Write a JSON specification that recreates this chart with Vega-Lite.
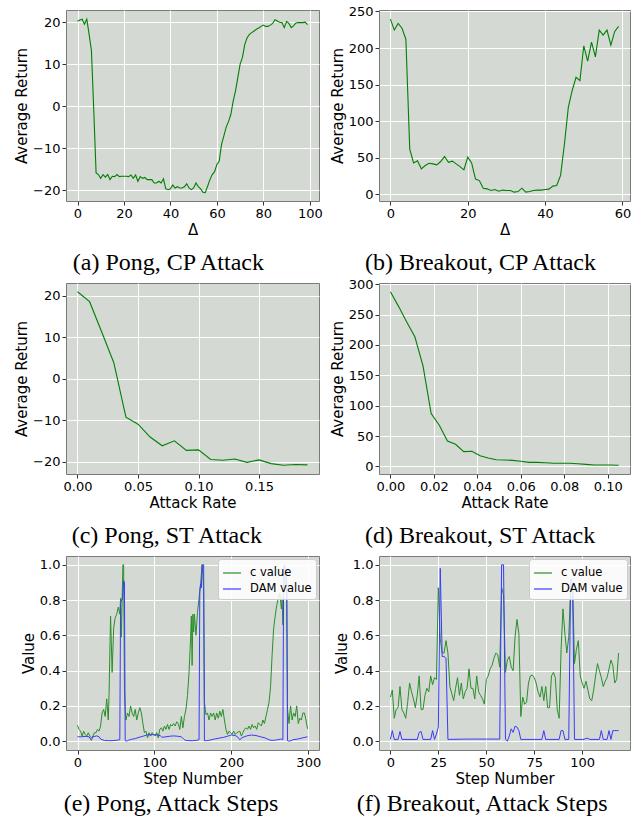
{
"$schema": "https://vega.github.io/schema/vega-lite/v6.json",
"padding": {"left": 14, "top": 4, "right": 5, "bottom": 5},
"datasets": {
"pongCP": [{"d":0,"r":20.2},{"d":1,"r":20.5},{"d":2,"r":20.7},{"d":3,"r":19.5},{"d":4,"r":20.7},{"d":5,"r":17.1},{"d":6,"r":13.2},{"d":7,"r":-1},{"d":8,"r":-15.9},{"d":9,"r":-16.3},{"d":10,"r":-17.2},{"d":11,"r":-16.3},{"d":12,"r":-16.9},{"d":13,"r":-16.3},{"d":14,"r":-17.5},{"d":15,"r":-16.7},{"d":16,"r":-16.8},{"d":17,"r":-16.3},{"d":18,"r":-16.8},{"d":19,"r":-16.7},{"d":20,"r":-16.7},{"d":21,"r":-16.7},{"d":22,"r":-16.8},{"d":23,"r":-16.4},{"d":24,"r":-17.2},{"d":25,"r":-16.4},{"d":26,"r":-17.9},{"d":27,"r":-16.8},{"d":28,"r":-17.2},{"d":29,"r":-17.0},{"d":30,"r":-17.5},{"d":31,"r":-17.5},{"d":32,"r":-17.5},{"d":33,"r":-18.3},{"d":34,"r":-18.3},{"d":35,"r":-17.9},{"d":36,"r":-18.3},{"d":37,"r":-17.3},{"d":38,"r":-19.7},{"d":39,"r":-19.9},{"d":40,"r":-19.7},{"d":41,"r":-18.8},{"d":42,"r":-19.5},{"d":43,"r":-19.2},{"d":44,"r":-19.5},{"d":45,"r":-19.5},{"d":46,"r":-19.2},{"d":47,"r":-18.5},{"d":48,"r":-19.5},{"d":49,"r":-19.9},{"d":50,"r":-19.5},{"d":51,"r":-18.3},{"d":52,"r":-19.2},{"d":53,"r":-19.7},{"d":54,"r":-20.5},{"d":55,"r":-20.6},{"d":56,"r":-19.1},{"d":57,"r":-17.5},{"d":58,"r":-16.3},{"d":59,"r":-15.6},{"d":60,"r":-13.9},{"d":61,"r":-13.1},{"d":62,"r":-9.1},{"d":63,"r":-7.1},{"d":64,"r":-5.0},{"d":65,"r":-3.7},{"d":66,"r":-2.0},{"d":67,"r":1.2},{"d":68,"r":3.6},{"d":69,"r":6.8},{"d":70,"r":10.0},{"d":71,"r":11.6},{"d":72,"r":14.7},{"d":73,"r":16.3},{"d":74,"r":17.1},{"d":75,"r":17.5},{"d":76,"r":17.9},{"d":77,"r":18.3},{"d":78,"r":18.6},{"d":79,"r":19.0},{"d":80,"r":19.3},{"d":81,"r":19.0},{"d":82,"r":19.0},{"d":83,"r":19.3},{"d":84,"r":19.7},{"d":85,"r":20.6},{"d":86,"r":20.3},{"d":87,"r":20.0},{"d":88,"r":19.9},{"d":89,"r":18.7},{"d":90,"r":20.2},{"d":91,"r":19.7},{"d":92,"r":18.7},{"d":93,"r":19.1},{"d":94,"r":19.8},{"d":95,"r":19.9},{"d":96,"r":19.9},{"d":97,"r":19.9},{"d":98,"r":20.0},{"d":99,"r":19.4}],
"breakCP": [{"d":0,"r":239.5},{"d":1,"r":224.5},{"d":2,"r":233.6},{"d":3,"r":227},{"d":4,"r":212},{"d":5,"r":62},{"d":6,"r":43},{"d":7,"r":46},{"d":8,"r":35},{"d":9,"r":39.5},{"d":10,"r":42.7},{"d":11,"r":41.8},{"d":12,"r":40.5},{"d":13,"r":45},{"d":14,"r":51.8},{"d":15,"r":44},{"d":16,"r":45.5},{"d":17,"r":41.8},{"d":18,"r":38},{"d":19,"r":33.6},{"d":20,"r":51},{"d":21,"r":43},{"d":22,"r":21},{"d":23,"r":19},{"d":24,"r":8.6},{"d":25,"r":7.7},{"d":26,"r":5.5},{"d":27,"r":6.8},{"d":28,"r":4.5},{"d":29,"r":6},{"d":30,"r":5.5},{"d":31,"r":5.5},{"d":32,"r":3.2},{"d":33,"r":4},{"d":34,"r":8.6},{"d":35,"r":3.2},{"d":36,"r":4},{"d":37,"r":5.5},{"d":38,"r":6},{"d":39,"r":6},{"d":40,"r":6.8},{"d":41,"r":7.3},{"d":42,"r":11.4},{"d":43,"r":12.3},{"d":44,"r":26},{"d":45,"r":69},{"d":46,"r":119},{"d":47,"r":142},{"d":48,"r":160},{"d":49,"r":155.5},{"d":50,"r":203},{"d":51,"r":182},{"d":52,"r":208},{"d":53,"r":188},{"d":54,"r":224.5},{"d":55,"r":217.7},{"d":56,"r":224.5},{"d":57,"r":204},{"d":58,"r":222.7},{"d":59,"r":229.5}],
"pongST": [{"a":0.00,"r":21},{"a":0.01,"r":18.6},{"a":0.02,"r":11.3},{"a":0.03,"r":3.9},{"a":0.04,"r":-9.2},{"a":0.05,"r":-10.9},{"a":0.06,"r":-14},{"a":0.07,"r":-16.1},{"a":0.08,"r":-14.9},{"a":0.09,"r":-17.2},{"a":0.10,"r":-17.1},{"a":0.11,"r":-19.4},{"a":0.12,"r":-19.6},{"a":0.13,"r":-19.3},{"a":0.14,"r":-20.1},{"a":0.15,"r":-19.5},{"a":0.16,"r":-20.4},{"a":0.17,"r":-20.8},{"a":0.18,"r":-20.6},{"a":0.19,"r":-20.7}],
"breakST": [{"a":0,"r":287.8},{"a":0.00375,"r":263.6},{"a":0.0075,"r":238},{"a":0.01125,"r":213.5},{"a":0.015,"r":165.7},{"a":0.01875,"r":87},{"a":0.0225,"r":67.7},{"a":0.02625,"r":41.8},{"a":0.03,"r":36.3},{"a":0.03375,"r":24.2},{"a":0.0375,"r":24.8},{"a":0.04125,"r":17.6},{"a":0.045,"r":13.8},{"a":0.04875,"r":11},{"a":0.0525,"r":10.5},{"a":0.05625,"r":9.9},{"a":0.06,"r":8.3},{"a":0.06375,"r":6.6},{"a":0.0675,"r":6.6},{"a":0.07125,"r":6},{"a":0.075,"r":5},{"a":0.07875,"r":5},{"a":0.0825,"r":5},{"a":0.08625,"r":4.4},{"a":0.09,"r":3.3},{"a":0.09375,"r":2.2},{"a":0.0975,"r":2.2},{"a":0.10125,"r":2.2},{"a":0.105,"r":1.7}],
"pongSteps": [
{"s":0,"v":0.09,"k":"c value"},{"s":2,"v":0.067,"k":"c value"},{"s":4,"v":0.057,"k":"c value"},{"s":6,"v":0.029,"k":"c value"},{"s":8,"v":0.057,"k":"c value"},{"s":10,"v":0.038,"k":"c value"},{"s":12,"v":0.029,"k":"c value"},{"s":14,"v":0.048,"k":"c value"},{"s":16,"v":0.029,"k":"c value"},{"s":18,"v":0.019,"k":"c value"},{"s":20,"v":0.029,"k":"c value"},{"s":22,"v":0.048,"k":"c value"},{"s":24,"v":0.048,"k":"c value"},{"s":26,"v":0.067,"k":"c value"},{"s":28,"v":0.057,"k":"c value"},{"s":30,"v":0.086,"k":"c value"},{"s":32,"v":0.16,"k":"c value"},{"s":34,"v":0.18,"k":"c value"},{"s":36,"v":0.14,"k":"c value"},{"s":38,"v":0.24,"k":"c value"},{"s":40,"v":0.12,"k":"c value"},{"s":41,"v":0.26,"k":"c value"},{"s":43,"v":0.71,"k":"c value"},{"s":45,"v":0.39,"k":"c value"},{"s":47,"v":0.64,"k":"c value"},{"s":49,"v":0.70,"k":"c value"},{"s":51,"v":0.72,"k":"c value"},{"s":53,"v":0.76,"k":"c value"},{"s":55,"v":0.72,"k":"c value"},{"s":56,"v":0.81,"k":"c value"},{"s":57,"v":0.59,"k":"c value"},{"s":58,"v":0.79,"k":"c value"},{"s":59,"v":1.0,"k":"c value"},{"s":60,"v":1.0,"k":"c value"},{"s":61,"v":0.3,"k":"c value"},{"s":62,"v":0.18,"k":"c value"},{"s":63,"v":0.12,"k":"c value"},{"s":65,"v":0.16,"k":"c value"},{"s":67,"v":0.14,"k":"c value"},{"s":69,"v":0.20,"k":"c value"},{"s":71,"v":0.16,"k":"c value"},{"s":73,"v":0.14,"k":"c value"},{"s":75,"v":0.18,"k":"c value"},{"s":77,"v":0.12,"k":"c value"},{"s":79,"v":0.16,"k":"c value"},{"s":81,"v":0.19,"k":"c value"},{"s":83,"v":0.16,"k":"c value"},{"s":85,"v":0.10,"k":"c value"},{"s":87,"v":0.048,"k":"c value"},{"s":89,"v":0.057,"k":"c value"},{"s":91,"v":0.019,"k":"c value"},{"s":93,"v":0.048,"k":"c value"},{"s":95,"v":0.029,"k":"c value"},{"s":97,"v":0.048,"k":"c value"},{"s":99,"v":0.038,"k":"c value"},{"s":101,"v":0.029,"k":"c value"},{"s":103,"v":0.048,"k":"c value"},{"s":105,"v":0.019,"k":"c value"},{"s":107,"v":0.067,"k":"c value"},{"s":109,"v":0.076,"k":"c value"},{"s":111,"v":0.057,"k":"c value"},{"s":113,"v":0.086,"k":"c value"},{"s":115,"v":0.067,"k":"c value"},{"s":117,"v":0.095,"k":"c value"},{"s":119,"v":0.067,"k":"c value"},{"s":121,"v":0.095,"k":"c value"},{"s":123,"v":0.086,"k":"c value"},{"s":125,"v":0.10,"k":"c value"},{"s":127,"v":0.086,"k":"c value"},{"s":129,"v":0.11,"k":"c value"},{"s":131,"v":0.10,"k":"c value"},{"s":133,"v":0.067,"k":"c value"},{"s":135,"v":0.14,"k":"c value"},{"s":137,"v":0.076,"k":"c value"},{"s":139,"v":0.14,"k":"c value"},{"s":141,"v":0.18,"k":"c value"},{"s":143,"v":0.26,"k":"c value"},{"s":145,"v":0.39,"k":"c value"},{"s":147,"v":0.58,"k":"c value"},{"s":148,"v":0.71,"k":"c value"},{"s":149,"v":0.43,"k":"c value"},{"s":150,"v":0.72,"k":"c value"},{"s":151,"v":0.62,"k":"c value"},{"s":152,"v":0.72,"k":"c value"},{"s":154,"v":0.60,"k":"c value"},{"s":156,"v":0.73,"k":"c value"},{"s":158,"v":0.81,"k":"c value"},{"s":160,"v":0.89,"k":"c value"},{"s":162,"v":1.0,"k":"c value"},{"s":163,"v":0.94,"k":"c value"},{"s":164,"v":0.85,"k":"c value"},{"s":165,"v":0.22,"k":"c value"},{"s":167,"v":0.15,"k":"c value"},{"s":169,"v":0.16,"k":"c value"},{"s":171,"v":0.12,"k":"c value"},{"s":173,"v":0.16,"k":"c value"},{"s":175,"v":0.14,"k":"c value"},{"s":177,"v":0.16,"k":"c value"},{"s":179,"v":0.12,"k":"c value"},{"s":181,"v":0.16,"k":"c value"},{"s":183,"v":0.13,"k":"c value"},{"s":185,"v":0.17,"k":"c value"},{"s":187,"v":0.14,"k":"c value"},{"s":189,"v":0.18,"k":"c value"},{"s":191,"v":0.12,"k":"c value"},{"s":193,"v":0.067,"k":"c value"},{"s":195,"v":0.038,"k":"c value"},{"s":197,"v":0.057,"k":"c value"},{"s":199,"v":0.048,"k":"c value"},{"s":201,"v":0.038,"k":"c value"},{"s":203,"v":0.057,"k":"c value"},{"s":205,"v":0.038,"k":"c value"},{"s":207,"v":0.048,"k":"c value"},{"s":209,"v":0.052,"k":"c value"},{"s":211,"v":0.057,"k":"c value"},{"s":213,"v":0.029,"k":"c value"},{"s":215,"v":0.048,"k":"c value"},{"s":217,"v":0.067,"k":"c value"},{"s":219,"v":0.076,"k":"c value"},{"s":221,"v":0.067,"k":"c value"},{"s":223,"v":0.086,"k":"c value"},{"s":225,"v":0.067,"k":"c value"},{"s":227,"v":0.095,"k":"c value"},{"s":229,"v":0.076,"k":"c value"},{"s":231,"v":0.086,"k":"c value"},{"s":233,"v":0.067,"k":"c value"},{"s":235,"v":0.105,"k":"c value"},{"s":237,"v":0.095,"k":"c value"},{"s":239,"v":0.086,"k":"c value"},{"s":241,"v":0.12,"k":"c value"},{"s":243,"v":0.10,"k":"c value"},{"s":245,"v":0.14,"k":"c value"},{"s":247,"v":0.18,"k":"c value"},{"s":249,"v":0.22,"k":"c value"},{"s":251,"v":0.31,"k":"c value"},{"s":253,"v":0.49,"k":"c value"},{"s":255,"v":0.64,"k":"c value"},{"s":257,"v":0.71,"k":"c value"},{"s":259,"v":0.77,"k":"c value"},{"s":261,"v":0.81,"k":"c value"},{"s":263,"v":0.84,"k":"c value"},{"s":265,"v":0.75,"k":"c value"},{"s":266,"v":0.81,"k":"c value"},{"s":267,"v":0.66,"k":"c value"},{"s":268,"v":0.88,"k":"c value"},{"s":269,"v":1.0,"k":"c value"},{"s":270,"v":0.90,"k":"c value"},{"s":272,"v":0.86,"k":"c value"},{"s":273,"v":0.18,"k":"c value"},{"s":275,"v":0.10,"k":"c value"},{"s":277,"v":0.20,"k":"c value"},{"s":279,"v":0.12,"k":"c value"},{"s":281,"v":0.16,"k":"c value"},{"s":283,"v":0.14,"k":"c value"},{"s":285,"v":0.20,"k":"c value"},{"s":287,"v":0.10,"k":"c value"},{"s":289,"v":0.13,"k":"c value"},{"s":291,"v":0.12,"k":"c value"},{"s":293,"v":0.16,"k":"c value"},{"s":295,"v":0.16,"k":"c value"},{"s":297,"v":0.12,"k":"c value"},{"s":299,"v":0.07,"k":"c value"},
{"s":0,"v":0.025,"k":"DAM value"},{"s":5,"v":0.025,"k":"DAM value"},{"s":10,"v":0.027,"k":"DAM value"},{"s":15,"v":0.025,"k":"DAM value"},{"s":18,"v":0.005,"k":"DAM value"},{"s":20,"v":0.025,"k":"DAM value"},{"s":25,"v":0.03,"k":"DAM value"},{"s":28,"v":0.025,"k":"DAM value"},{"s":30,"v":0.012,"k":"DAM value"},{"s":35,"v":0.004,"k":"DAM value"},{"s":40,"v":0.003,"k":"DAM value"},{"s":45,"v":0.003,"k":"DAM value"},{"s":50,"v":0.005,"k":"DAM value"},{"s":55,"v":0.008,"k":"DAM value"},{"s":56,"v":0.78,"k":"DAM value"},{"s":57,"v":0.80,"k":"DAM value"},{"s":58,"v":0.80,"k":"DAM value"},{"s":59,"v":0.84,"k":"DAM value"},{"s":60,"v":0.91,"k":"DAM value"},{"s":61,"v":0.90,"k":"DAM value"},{"s":62,"v":0.003,"k":"DAM value"},{"s":64,"v":0.0,"k":"DAM value"},{"s":66,"v":0.005,"k":"DAM value"},{"s":70,"v":0.01,"k":"DAM value"},{"s":75,"v":0.015,"k":"DAM value"},{"s":80,"v":0.022,"k":"DAM value"},{"s":85,"v":0.028,"k":"DAM value"},{"s":90,"v":0.035,"k":"DAM value"},{"s":95,"v":0.037,"k":"DAM value"},{"s":100,"v":0.037,"k":"DAM value"},{"s":105,"v":0.035,"k":"DAM value"},{"s":108,"v":0.03,"k":"DAM value"},{"s":110,"v":0.022,"k":"DAM value"},{"s":115,"v":0.025,"k":"DAM value"},{"s":120,"v":0.028,"k":"DAM value"},{"s":125,"v":0.03,"k":"DAM value"},{"s":130,"v":0.028,"k":"DAM value"},{"s":135,"v":0.025,"k":"DAM value"},{"s":138,"v":0.012,"k":"DAM value"},{"s":140,"v":0.005,"k":"DAM value"},{"s":145,"v":0.003,"k":"DAM value"},{"s":150,"v":0.003,"k":"DAM value"},{"s":155,"v":0.005,"k":"DAM value"},{"s":158,"v":0.008,"k":"DAM value"},{"s":159,"v":0.85,"k":"DAM value"},{"s":160,"v":0.89,"k":"DAM value"},{"s":161,"v":0.87,"k":"DAM value"},{"s":162,"v":1.0,"k":"DAM value"},{"s":163,"v":1.0,"k":"DAM value"},{"s":164,"v":1.0,"k":"DAM value"},{"s":165,"v":0.003,"k":"DAM value"},{"s":168,"v":0.003,"k":"DAM value"},{"s":172,"v":0.006,"k":"DAM value"},{"s":178,"v":0.012,"k":"DAM value"},{"s":185,"v":0.018,"k":"DAM value"},{"s":190,"v":0.022,"k":"DAM value"},{"s":195,"v":0.028,"k":"DAM value"},{"s":200,"v":0.035,"k":"DAM value"},{"s":205,"v":0.032,"k":"DAM value"},{"s":208,"v":0.025,"k":"DAM value"},{"s":211,"v":0.008,"k":"DAM value"},{"s":214,"v":0.02,"k":"DAM value"},{"s":220,"v":0.03,"k":"DAM value"},{"s":226,"v":0.035,"k":"DAM value"},{"s":232,"v":0.032,"k":"DAM value"},{"s":238,"v":0.025,"k":"DAM value"},{"s":244,"v":0.018,"k":"DAM value"},{"s":250,"v":0.006,"k":"DAM value"},{"s":255,"v":0.005,"k":"DAM value"},{"s":260,"v":0.008,"k":"DAM value"},{"s":264,"v":0.012,"k":"DAM value"},{"s":267,"v":0.01,"k":"DAM value"},{"s":268,"v":0.96,"k":"DAM value"},{"s":269,"v":1.0,"k":"DAM value"},{"s":270,"v":0.98,"k":"DAM value"},{"s":271,"v":0.96,"k":"DAM value"},{"s":272,"v":0.90,"k":"DAM value"},{"s":273,"v":0.003,"k":"DAM value"},{"s":276,"v":0.0,"k":"DAM value"},{"s":280,"v":0.008,"k":"DAM value"},{"s":286,"v":0.012,"k":"DAM value"},{"s":292,"v":0.018,"k":"DAM value"},{"s":299,"v":0.025,"k":"DAM value"}],
"breakSteps": [
{"s":0,"v":0.25,"k":"c value"},{"s":1,"v":0.29,"k":"c value"},{"s":2,"v":0.13,"k":"c value"},{"s":3,"v":0.18,"k":"c value"},{"s":4,"v":0.19,"k":"c value"},{"s":5,"v":0.31,"k":"c value"},{"s":6,"v":0.18,"k":"c value"},{"s":7,"v":0.16,"k":"c value"},{"s":8,"v":0.13,"k":"c value"},{"s":9,"v":0.22,"k":"c value"},{"s":10,"v":0.33,"k":"c value"},{"s":11,"v":0.28,"k":"c value"},{"s":12,"v":0.24,"k":"c value"},{"s":13,"v":0.19,"k":"c value"},{"s":14,"v":0.26,"k":"c value"},{"s":15,"v":0.37,"k":"c value"},{"s":16,"v":0.18,"k":"c value"},{"s":17,"v":0.18,"k":"c value"},{"s":18,"v":0.26,"k":"c value"},{"s":19,"v":0.30,"k":"c value"},{"s":20,"v":0.28,"k":"c value"},{"s":21,"v":0.37,"k":"c value"},{"s":22,"v":0.32,"k":"c value"},{"s":23,"v":0.36,"k":"c value"},{"s":24,"v":0.35,"k":"c value"},{"s":25,"v":0.87,"k":"c value"},{"s":26,"v":0.58,"k":"c value"},{"s":27,"v":0.50,"k":"c value"},{"s":28,"v":0.50,"k":"c value"},{"s":29,"v":0.57,"k":"c value"},{"s":30,"v":0.50,"k":"c value"},{"s":31,"v":0.31,"k":"c value"},{"s":32,"v":0.27,"k":"c value"},{"s":33,"v":0.23,"k":"c value"},{"s":34,"v":0.30,"k":"c value"},{"s":35,"v":0.36,"k":"c value"},{"s":36,"v":0.26,"k":"c value"},{"s":37,"v":0.33,"k":"c value"},{"s":38,"v":0.24,"k":"c value"},{"s":39,"v":0.28,"k":"c value"},{"s":40,"v":0.30,"k":"c value"},{"s":41,"v":0.41,"k":"c value"},{"s":42,"v":0.30,"k":"c value"},{"s":43,"v":0.30,"k":"c value"},{"s":44,"v":0.24,"k":"c value"},{"s":45,"v":0.37,"k":"c value"},{"s":46,"v":0.28,"k":"c value"},{"s":47,"v":0.26,"k":"c value"},{"s":48,"v":0.24,"k":"c value"},{"s":49,"v":0.21,"k":"c value"},{"s":50,"v":0.35,"k":"c value"},{"s":51,"v":0.37,"k":"c value"},{"s":52,"v":0.41,"k":"c value"},{"s":53,"v":0.43,"k":"c value"},{"s":54,"v":0.47,"k":"c value"},{"s":55,"v":0.50,"k":"c value"},{"s":56,"v":0.49,"k":"c value"},{"s":57,"v":0.42,"k":"c value"},{"s":58,"v":0.87,"k":"c value"},{"s":59,"v":0.83,"k":"c value"},{"s":60,"v":0.39,"k":"c value"},{"s":61,"v":0.46,"k":"c value"},{"s":62,"v":0.48,"k":"c value"},{"s":63,"v":0.42,"k":"c value"},{"s":64,"v":0.40,"k":"c value"},{"s":65,"v":0.59,"k":"c value"},{"s":66,"v":0.69,"k":"c value"},{"s":67,"v":0.61,"k":"c value"},{"s":68,"v":0.14,"k":"c value"},{"s":69,"v":0.25,"k":"c value"},{"s":70,"v":0.21,"k":"c value"},{"s":71,"v":0.22,"k":"c value"},{"s":72,"v":0.33,"k":"c value"},{"s":73,"v":0.37,"k":"c value"},{"s":74,"v":0.375,"k":"c value"},{"s":75,"v":0.36,"k":"c value"},{"s":76,"v":0.33,"k":"c value"},{"s":77,"v":0.28,"k":"c value"},{"s":78,"v":0.25,"k":"c value"},{"s":79,"v":0.31,"k":"c value"},{"s":80,"v":0.23,"k":"c value"},{"s":81,"v":0.31,"k":"c value"},{"s":82,"v":0.19,"k":"c value"},{"s":83,"v":0.19,"k":"c value"},{"s":84,"v":0.37,"k":"c value"},{"s":85,"v":0.39,"k":"c value"},{"s":86,"v":0.36,"k":"c value"},{"s":87,"v":0.18,"k":"c value"},{"s":88,"v":0.13,"k":"c value"},{"s":89,"v":0.52,"k":"c value"},{"s":90,"v":0.75,"k":"c value"},{"s":91,"v":0.61,"k":"c value"},{"s":92,"v":0.50,"k":"c value"},{"s":93,"v":0.59,"k":"c value"},{"s":94,"v":0.86,"k":"c value"},{"s":95,"v":0.90,"k":"c value"},{"s":96,"v":0.44,"k":"c value"},{"s":97,"v":0.52,"k":"c value"},{"s":98,"v":0.57,"k":"c value"},{"s":99,"v":0.37,"k":"c value"},{"s":100,"v":0.33,"k":"c value"},{"s":101,"v":0.30,"k":"c value"},{"s":102,"v":0.34,"k":"c value"},{"s":103,"v":0.29,"k":"c value"},{"s":104,"v":0.24,"k":"c value"},{"s":105,"v":0.23,"k":"c value"},{"s":106,"v":0.29,"k":"c value"},{"s":107,"v":0.37,"k":"c value"},{"s":108,"v":0.44,"k":"c value"},{"s":109,"v":0.40,"k":"c value"},{"s":110,"v":0.36,"k":"c value"},{"s":111,"v":0.31,"k":"c value"},{"s":112,"v":0.34,"k":"c value"},{"s":113,"v":0.36,"k":"c value"},{"s":114,"v":0.41,"k":"c value"},{"s":115,"v":0.46,"k":"c value"},{"s":116,"v":0.43,"k":"c value"},{"s":117,"v":0.33,"k":"c value"},{"s":118,"v":0.35,"k":"c value"},{"s":119,"v":0.50,"k":"c value"},
{"s":0,"v":0.01,"k":"DAM value"},{"s":1,"v":0.06,"k":"DAM value"},{"s":2,"v":0.01,"k":"DAM value"},{"s":4,"v":0.01,"k":"DAM value"},{"s":5,"v":0.055,"k":"DAM value"},{"s":6,"v":0.01,"k":"DAM value"},{"s":14,"v":0.01,"k":"DAM value"},{"s":15,"v":0.05,"k":"DAM value"},{"s":16,"v":0.055,"k":"DAM value"},{"s":17,"v":0.01,"k":"DAM value"},{"s":21,"v":0.01,"k":"DAM value"},{"s":22,"v":0.06,"k":"DAM value"},{"s":23,"v":0.01,"k":"DAM value"},{"s":24,"v":0.04,"k":"DAM value"},{"s":25,"v":0.08,"k":"DAM value"},{"s":26,"v":0.98,"k":"DAM value"},{"s":27,"v":0.48,"k":"DAM value"},{"s":28,"v":0.48,"k":"DAM value"},{"s":29,"v":0.47,"k":"DAM value"},{"s":30,"v":0.01,"k":"DAM value"},{"s":40,"v":0.012,"k":"DAM value"},{"s":50,"v":0.012,"k":"DAM value"},{"s":57,"v":0.012,"k":"DAM value"},{"s":58,"v":1.0,"k":"DAM value"},{"s":59,"v":1.0,"k":"DAM value"},{"s":60,"v":0.01,"k":"DAM value"},{"s":61,"v":0.0,"k":"DAM value"},{"s":62,"v":0.03,"k":"DAM value"},{"s":63,"v":0.07,"k":"DAM value"},{"s":64,"v":0.05,"k":"DAM value"},{"s":65,"v":0.085,"k":"DAM value"},{"s":66,"v":0.08,"k":"DAM value"},{"s":67,"v":0.06,"k":"DAM value"},{"s":68,"v":0.01,"k":"DAM value"},{"s":79,"v":0.01,"k":"DAM value"},{"s":80,"v":0.06,"k":"DAM value"},{"s":81,"v":0.01,"k":"DAM value"},{"s":88,"v":0.01,"k":"DAM value"},{"s":89,"v":0.06,"k":"DAM value"},{"s":90,"v":0.06,"k":"DAM value"},{"s":91,"v":0.01,"k":"DAM value"},{"s":93,"v":0.01,"k":"DAM value"},{"s":94,"v":0.92,"k":"DAM value"},{"s":95,"v":0.9,"k":"DAM value"},{"s":96,"v":0.01,"k":"DAM value"},{"s":101,"v":0.01,"k":"DAM value"},{"s":102,"v":0.016,"k":"DAM value"},{"s":103,"v":0.016,"k":"DAM value"},{"s":104,"v":0.01,"k":"DAM value"},{"s":109,"v":0.01,"k":"DAM value"},{"s":110,"v":0.06,"k":"DAM value"},{"s":111,"v":0.01,"k":"DAM value"},{"s":113,"v":0.01,"k":"DAM value"},{"s":114,"v":0.06,"k":"DAM value"},{"s":115,"v":0.01,"k":"DAM value"},{"s":116,"v":0.06,"k":"DAM value"},{"s":117,"v":0.06,"k":"DAM value"},{"s":118,"v":0.06,"k":"DAM value"},{"s":119,"v":0.06,"k":"DAM value"}]
},
"columns": 2,
"spacing": {"row": 82, "column": 60},
"bounds": "flush",
"align": "each",
"concat": [
{"width": 253, "height": 191, "data": {"name": "pongCP"},
 "title": {"text": "(a) Pong, CP Attack", "offset": 14},
 "mark": {"type": "line", "color": "#008000", "strokeWidth": 1.1},
 "encoding": {
  "x": {"field": "d", "type": "quantitative", "scale": {"domain": [-4.95, 103.95], "nice": false, "zero": false}, "axis": {"values": [0,20,40,60,80,100], "title": "Δ"}},
  "y": {"field": "r", "type": "quantitative", "scale": {"domain": [-22.6, 22.9], "nice": false, "zero": false}, "axis": {"values": [-20,-10,0,10,20], "title": "Average Return"}}}},
{"width": 251, "height": 191, "data": {"name": "breakCP"},
 "title": {"text": "(b) Breakout, CP Attack", "offset": 14},
 "mark": {"type": "line", "color": "#008000", "strokeWidth": 1.1},
 "encoding": {
  "x": {"field": "d", "type": "quantitative", "scale": {"domain": [-2.95, 61.95], "nice": false, "zero": false}, "axis": {"values": [0,20,40,60], "title": "Δ"}},
  "y": {"field": "r", "type": "quantitative", "scale": {"domain": [-8.9, 251.9], "nice": false, "zero": false}, "axis": {"values": [0,50,100,150,200,250], "title": "Average Return"}}}},
{"width": 253, "height": 191, "data": {"name": "pongST"},
 "title": {"text": "(c) Pong, ST Attack", "offset": 14},
 "mark": {"type": "line", "color": "#008000", "strokeWidth": 1.1},
 "encoding": {
  "x": {"field": "a", "type": "quantitative", "scale": {"domain": [-0.0095, 0.1995], "nice": false, "zero": false}, "axis": {"values": [0,0.05,0.1,0.15], "format": ".2f", "title": "Attack Rate"}},
  "y": {"field": "r", "type": "quantitative", "scale": {"domain": [-22.9, 23.1], "nice": false, "zero": false}, "axis": {"values": [-20,-10,0,10,20], "title": "Average Return"}}}},
{"width": 251, "height": 191, "data": {"name": "breakST"},
 "title": {"text": "(d) Breakout, ST Attack", "offset": 14},
 "mark": {"type": "line", "color": "#008000", "strokeWidth": 1.1},
 "encoding": {
  "x": {"field": "a", "type": "quantitative", "scale": {"domain": [-0.00525, 0.11025], "nice": false, "zero": false}, "axis": {"values": [0,0.02,0.04,0.06,0.08,0.1], "format": ".2f", "title": "Attack Rate"}},
  "y": {"field": "r", "type": "quantitative", "scale": {"domain": [-12.6, 302.1], "nice": false, "zero": false}, "axis": {"values": [0,50,100,150,200,250,300], "title": "Average Return"}}}},
{"width": 253, "height": 194, "data": {"name": "pongSteps"},
 "title": {"text": "(e) Pong, Attack Steps", "offset": 6},
 "encoding": {
  "x": {"field": "s", "type": "quantitative", "scale": {"domain": [-14.95, 313.95], "nice": false, "zero": false}, "axis": {"values": [0,100,200,300], "title": "Step Number"}},
  "y": {"field": "v", "type": "quantitative", "scale": {"domain": [-0.05, 1.05], "nice": false, "zero": false}, "axis": {"values": [0,0.2,0.4,0.6,0.8,1.0], "format": ".1f", "title": "Value"}},
  "color": {"field": "k", "type": "nominal", "scale": {"domain": ["c value", "DAM value"], "range": ["#2a8f2a", "#3a3aff"]}, "legend": {"title": null}}},
 "layer": [
  {"transform": [{"filter": "datum.k === 'c value'"}], "mark": {"type": "line", "strokeWidth": 1}},
  {"transform": [{"filter": "datum.k === 'DAM value'"}], "mark": {"type": "line", "strokeWidth": 1}}]},
{"width": 251, "height": 194, "data": {"name": "breakSteps"},
 "title": {"text": "(f) Breakout, Attack Steps", "offset": 6},
 "encoding": {
  "x": {"field": "s", "type": "quantitative", "scale": {"domain": [-5.95, 124.95], "nice": false, "zero": false}, "axis": {"values": [0,25,50,75,100], "title": "Step Number"}},
  "y": {"field": "v", "type": "quantitative", "scale": {"domain": [-0.05, 1.05], "nice": false, "zero": false}, "axis": {"values": [0,0.2,0.4,0.6,0.8,1.0], "format": ".1f", "title": "Value"}},
  "color": {"field": "k", "type": "nominal", "scale": {"domain": ["c value", "DAM value"], "range": ["#2a8f2a", "#3a3aff"]}, "legend": {"title": null}}},
 "layer": [
  {"transform": [{"filter": "datum.k === 'c value'"}], "mark": {"type": "line", "strokeWidth": 1}},
  {"transform": [{"filter": "datum.k === 'DAM value'"}], "mark": {"type": "line", "strokeWidth": 1}}]}
],
"resolve": {"scale": {"color": "independent"}, "legend": {"color": "independent"}},
"config": {
 "background": "#ffffff",
 "view": {"fill": "#d4d9d4", "stroke": "#7a7a7a", "strokeWidth": 1},
 "axis": {"domain": false, "grid": true, "gridColor": "#ffffff", "gridWidth": 1, "gridOpacity": 1, "tickColor": "#333333", "tickSize": 4, "tickWidth": 1, "labelFont": "DejaVu Sans", "labelFontSize": 13, "labelColor": "#000000", "labelPadding": 2, "titleFont": "DejaVu Sans", "titleFontSize": 15, "titleFontWeight": "normal", "titleColor": "#000000", "labelFlush": false, "labelOverlap": false, "labelBound": false, "titlePadding": 2},
 "axisY": {"titlePadding": 3},
 "title": {"orient": "bottom", "font": "Liberation Serif", "fontSize": 24, "fontWeight": "normal", "color": "#000000", "anchor": "middle", "frame": "bounds"},
 "legend": {"orient": "top-right", "offset": 3, "padding": 4, "fillColor": "rgba(255,255,255,0.85)", "strokeColor": "#cccccc", "cornerRadius": 3, "symbolType": "stroke", "symbolSize": 324, "symbolStrokeWidth": 1.2, "labelFont": "DejaVu Sans", "labelFontSize": 11.5, "labelColor": "#000000", "rowPadding": -2, "labelOffset": 8}
}
}
